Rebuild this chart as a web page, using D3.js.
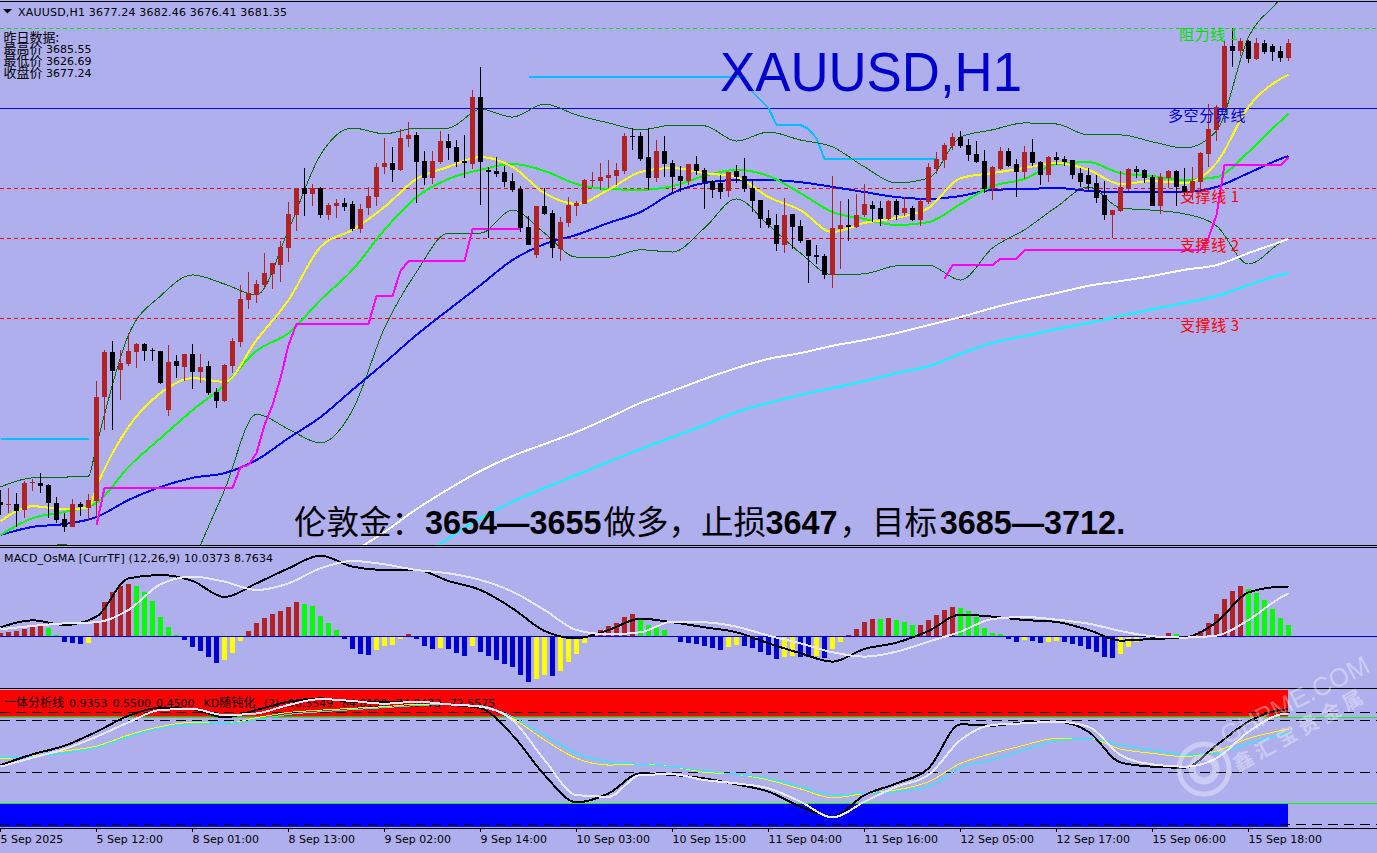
<!DOCTYPE html>
<html><head><meta charset="utf-8">
<script src="https://cdn.jsdelivr.net/npm/d3@7"></script>
<style>
html,body{margin:0;padding:0;background:#afafee;overflow:hidden}
svg{display:block}
text{font-family:"DejaVu Sans",sans-serif}
.cjk{font-family:"Noto Sans CJK SC",sans-serif}
</style></head><body><div id="c"></div>
<script>
// ---------- price candles ----------
const highs=[3558.5,3559.0,3557.6,3560.9,3561.5,3563.1,3560.1,3556.5,3552.1,3556.0,
3555.2,3557.3,3588.4,3597.0,3599.4,3597.0,3601.6,3598.9,3598.9,3597.5,
3596.7,3598.3,3595.6,3595.8,3598.6,3595.8,3593.9,3586.5,3593.1,3600.2,
3614.8,3618.4,3616.2,3623.6,3620.9,3626.9,3637.6,3641.5,3647.0,3642.6,
3641.8,3637.4,3638.5,3638.8,3637.9,3637.1,3641.8,3648.4,3655.2,3652.8,
3657.7,3659.6,3656.9,3651.7,3651.7,3657.2,3656.4,3654.7,3656.1,3668.5,
3674.8,3647.3,3650.0,3647.6,3645.6,3642.0,3633.8,3636.6,3641.5,3635.4,
3633.5,3639.0,3637.9,3644.0,3645.9,3648.4,3649.2,3648.4,3656.6,3658.0,
3656.9,3658.0,3654.7,3655.8,3649.2,3647.6,3648.1,3650.3,3647.0,3643.7,
3645.1,3645.9,3647.8,3649.7,3644.0,3638.2,3635.4,3634.3,3638.8,3634.3,
3632.7,3627.2,3625.8,3623.4,3644.8,3637.9,3638.5,3639.9,3642.6,3637.9,
3637.9,3638.2,3638.5,3639.0,3636.6,3638.8,3648.4,3651.4,3653.9,3656.6,
3657.2,3655.0,3654.4,3651.9,3647.6,3652.8,3652.5,3649.5,3653.0,3655.0,
3648.9,3650.3,3651.4,3650.3,3649.2,3647.0,3647.0,3645.1,3643.4,3635.4,
3646.2,3647.0,3647.6,3646.7,3645.1,3645.6,3646.5,3646.5,3647.0,3647.3,
3651.4,3664.6,3664.3,3681.9,3685.5,3682.8,3682.2,3682.8,3682.2,3681.1,3680.6,3682.46];
const lows=[3551.6,3552.1,3548.3,3550.7,3558.2,3557.6,3550.7,3549.4,3546.9,3548.3,
3551.3,3549.9,3551.0,3575.0,3575.0,3583.2,3592.5,3592.0,3593.9,3593.9,
3587.6,3578.8,3589.2,3588.4,3586.2,3587.9,3584.6,3581.0,3582.7,3590.6,
3597.8,3608.2,3609.9,3613.7,3613.7,3615.6,3621.2,3629.7,3633.8,3636.5,
3633.3,3632.7,3633.3,3635.2,3629.7,3629.1,3634.1,3636.6,3645.4,3643.2,
3646.2,3652.8,3637.4,3642.3,3642.6,3648.1,3649.2,3647.3,3644.2,3646.7,
3636.8,3627.7,3644.5,3641.8,3640.4,3629.4,3625.8,3622.2,3634.1,3622.2,
3621.4,3630.8,3633.8,3637.1,3641.8,3641.0,3641.5,3642.3,3645.4,3652.0,
3648.9,3641.0,3643.2,3644.5,3640.4,3640.4,3642.3,3645.1,3635.7,3638.8,
3638.5,3639.0,3642.9,3640.4,3634.9,3630.5,3630.5,3624.2,3623.6,3624.7,
3626.4,3615.4,3620.6,3616.5,3614.0,3619.2,3626.9,3630.5,3633.5,3632.2,
3631.1,3632.7,3632.7,3633.8,3632.4,3631.1,3637.1,3645.4,3647.0,3651.9,
3652.5,3648.9,3648.4,3640.1,3638.2,3646.5,3647.3,3639.0,3644.0,3647.6,
3642.3,3643.2,3647.8,3647.6,3644.0,3641.8,3640.7,3637.4,3632.7,3627.7,
3634.9,3640.7,3644.2,3642.9,3636.6,3634.4,3641.5,3636.6,3639.6,3638.2,
3641.0,3647.3,3654.4,3663.0,3674.8,3677.8,3675.9,3676.7,3678.4,3676.4,3676.2,3676.41];
const opens=[3555.2,3554.3,3554.6,3553.0,3560.4,3560.4,3559.8,3554.9,3550.5,3548.3,
3554.6,3553.5,3555.4,3584.0,3596.4,3591.4,3593.1,3596.4,3598.6,3597.0,
3596.7,3580.4,3593.9,3592.3,3595.8,3590.9,3592.5,3585.4,3582.9,3592.5,
3599.2,3610.7,3612.1,3614.8,3617.9,3620.3,3625.0,3634.1,3641.5,3639.9,
3641.5,3634.1,3636.6,3637.4,3637.1,3630.2,3636.0,3639.0,3647.3,3648.4,
3646.5,3655.0,3656.1,3648.9,3644.2,3648.7,3654.4,3652.8,3648.9,3648.1,
3666.5,3646.5,3646.2,3645.9,3643.4,3641.2,3630.8,3623.1,3636.6,3634.6,
3624.7,3631.9,3636.6,3637.1,3643.4,3643.4,3644.2,3644.8,3646.2,3655.8,
3655.8,3650.0,3644.2,3651.7,3648.4,3644.8,3643.4,3648.1,3646.5,3643.4,
3642.9,3640.7,3646.2,3644.8,3641.5,3638.2,3633.3,3631.3,3625.8,3634.3,
3631.1,3627.2,3623.1,3622.8,3617.6,3630.2,3631.3,3630.8,3634.1,3636.8,
3636.0,3633.0,3637.9,3634.6,3636.0,3632.7,3637.7,3646.7,3649.2,3653.0,
3655.5,3653.3,3650.9,3648.9,3641.2,3646.7,3651.7,3648.1,3645.9,3651.4,
3648.7,3645.1,3650.0,3649.5,3649.2,3645.6,3645.1,3642.9,3639.6,3634.1,
3635.2,3641.2,3646.7,3646.5,3644.5,3636.6,3644.2,3646.2,3642.0,3640.4,
3643.2,3650.9,3657.5,3663.5,3680.6,3679.2,3681.9,3677.0,3681.4,3680.6,3679.2,3677.24];
const closes=[3554.3,3554.6,3552.7,3560.4,3560.6,3559.6,3554.9,3550.2,3548.3,3554.6,
3553.8,3555.7,3584.0,3596.4,3591.2,3593.4,3596.7,3598.6,3596.7,3596.7,
3587.9,3593.7,3592.5,3595.8,3590.9,3592.3,3585.1,3582.9,3592.8,3599.4,
3611.0,3612.6,3615.1,3618.1,3620.9,3625.3,3634.4,3641.5,3639.9,3641.5,
3634.1,3636.8,3637.4,3636.3,3630.2,3635.7,3639.3,3647.3,3648.4,3646.5,
3655.2,3656.1,3648.7,3644.2,3648.9,3654.4,3652.5,3648.7,3648.4,3666.5,
3648.7,3645.9,3645.4,3643.2,3641.0,3630.5,3625.8,3636.6,3634.3,3625.0,
3632.2,3636.8,3637.4,3643.7,3643.7,3644.5,3645.1,3646.5,3655.8,3655.5,
3649.5,3644.2,3651.7,3648.1,3644.5,3643.4,3648.1,3646.2,3643.2,3641.0,
3640.4,3645.9,3644.5,3641.2,3637.9,3633.0,3631.3,3626.1,3634.1,3630.8,
3626.9,3622.8,3622.5,3617.6,3630.5,3631.3,3630.8,3634.1,3637.1,3635.7,
3633.0,3637.9,3634.1,3636.0,3632.7,3637.9,3647.3,3649.5,3653.3,3655.5,
3653.0,3650.6,3648.7,3641.2,3647.3,3651.7,3647.6,3645.9,3651.4,3648.4,
3645.1,3650.0,3649.2,3648.7,3645.1,3643.2,3642.6,3638.8,3634.1,3635.4,
3641.8,3646.7,3645.9,3644.2,3636.6,3644.5,3646.2,3641.8,3640.4,3643.4,
3651.1,3657.7,3663.8,3680.6,3679.2,3681.9,3677.0,3681.4,3678.9,3678.9,3677.2,3681.35];

// ---------- moving averages and bands, sampled every fourth bar plus the last ----------
const sampleBars=[...d3.range(0,161,4),161];
const breakBars=[0,4,8,11,...d3.range(12,161,4),161];
const maYellow=[3549.9,3554.0,3553.2,3553.5,3559.3,3575.8,3585.1,3589.2,3588.2,3599.7,3610.7,3625.3,3630.0,3636.3,3644.0,3647.3,3650.0,3647.3,3640.1,3637.1,3641.0,3645.9,3647.0,3645.6,3644.5,3639.0,3635.4,3629.4,3631.9,3633.3,3636.0,3644.2,3645.6,3647.0,3648.4,3646.5,3642.6,3643.4,3642.9,3648.4,3663.8,3671.5,3672.6];
const maGreen=[3546.1,3550.7,3552.4,3554.9,3564.8,3572.7,3580.4,3587.3,3596.7,3601.6,3610.7,3619.0,3630.0,3639.0,3644.0,3646.5,3648.1,3646.2,3642.6,3641.2,3641.0,3642.0,3644.8,3646.5,3644.8,3640.1,3634.9,3633.0,3631.3,3632.1,3637.1,3642.0,3644.0,3648.1,3648.6,3645.6,3644.8,3643.7,3644.5,3651.4,3659.9,3661.9];
const maBlue=[3546.1,3548.3,3549.1,3551.0,3555.7,3559.3,3561.8,3563.1,3566.7,3572.7,3578.5,3586.0,3593.4,3601.1,3608.0,3614.8,3621.7,3626.1,3628.6,3631.9,3634.9,3640.1,3642.9,3643.7,3643.7,3643.1,3641.8,3640.4,3639.0,3638.5,3639.3,3641.0,3641.2,3641.5,3640.7,3640.4,3640.4,3640.4,3641.8,3645.6,3649.5,3650.3];
const maWhite=[3541.4,3546.9,3553.2,3558.7,3563.7,3567.8,3571.1,3574.4,3578.3,3582.4,3585.7,3589.0,3592.0,3594.5,3596.1,3598.1,3599.7,3601.6,3603.8,3606.0,3608.5,3610.7,3612.6,3614.6,3615.9,3617.3,3619.0,3620.3,3623.6,3626.7,3627.5];
const maCyan=[3539.2,3545.2,3550.7,3555.2,3559.0,3562.6,3566.2,3569.7,3573.0,3576.3,3579.9,3582.4,3584.6,3586.5,3588.4,3590.6,3592.5,3595.9,3598.9,3600.8,3602.7,3604.4,3606.3,3608.2,3609.9,3611.8,3614.8,3617.6,3618.1];
const bbUpper=[3559.3,3561.8,3562.0,3562.3,3570.8,3601.1,3611.8,3617.6,3615.1,3612.1,3630.0,3650.6,3658.0,3656.4,3658.0,3658.0,3663.2,3661.0,3664.6,3661.6,3659.4,3657.5,3658.8,3658.6,3654.4,3656.9,3654.7,3652.8,3647.3,3642.9,3644.2,3655.5,3657.5,3659.4,3659.1,3656.1,3656.1,3654.2,3652.5,3657.2,3683.0,3693.8,3697.3];
const bbLower=[3540.6,3541.4,3543.6,3522.7,3506.2,3511.7,3537.8,3558.4,3579.3,3575.2,3571.4,3580.4,3603.0,3618.4,3629.1,3629.1,3635.4,3629.1,3622.5,3622.5,3624.5,3623.9,3630.5,3638.5,3631.3,3623.6,3617.6,3617.9,3620.1,3620.3,3616.2,3625.0,3630.0,3636.3,3641.8,3636.0,3635.4,3634.4,3631.1,3620.6,3626.4,3627.5];

// ---------- stepped support lines ----------
const magentaA=[[12,3548.8],[13,3559.0],[29,3559.0],[30,3564.8],[31,3565.3],[32,3568.6],[33,3576.3],[34,3581.8],[35,3589.2],[36,3598.3],[37,3604.1],[46,3604.1],[47,3611.8],[49,3611.8],[50,3618.7],[51,3621.4],[58,3621.4],[59,3630.2],[65,3630.2]];
const magentaB=[[118,3616.5],[119,3620.3],[124,3620.3],[125,3622.0],[127,3622.0],[128,3624.4],[150,3624.4],[151,3627.8],[152,3634.1],[153,3647.8],[160,3647.8],[161,3650.0]];
const skyA=[[0,3572.5],[11,3572.5]];
const skyB=[[66,3672.0],[93,3672.0],[94,3667.9],[95,3665.7],[96,3663.5],[97,3658.8],[100,3658.8],[101,3657.7],[102,3655.2],[103,3649.5],[117,3649.5]];

// ---------- horizontal levels ----------
const levelResist=3685.55, levelPivot=3663.4;
const levelSupports=[3641.4,3627.7,3605.7];

// ---------- MACD pane ----------
const osma=[0.6,0.8,1.0,1.4,1.8,2.2,1.6,0.2,-1.2,-1.4,-1.44,-1.3,2.6,6.8,8.8,10,10.4,10,8.8,7,3.8,1.8,0.2,-0.8,-2.2,-3,-4.2,-5.4,-4.8,-3.4,-1,1,2.6,3.6,4.4,5,5.8,6.8,6.4,6,4,2.6,1.2,-0.6,-2.6,-3.6,-3.8,-2.8,-2,-1.8,-0.6,0.4,-0.6,-2,-2.6,-2.4,-2.6,-3.4,-4,-2,-3.2,-4,-4.8,-5.6,-6.2,-7.8,-9.2,-8.6,-7.8,-8,-7,-5.2,-3.6,-1.4,0.4,1.2,2,2.6,3.8,4.4,3.2,2.2,2,1.2,0,-1.2,-1.4,-1.6,-2,-2.4,-2.8,-2.2,-1.8,-1.9,-2.4,-3.2,-3.8,-4.6,-4.2,-4,-4.1,-4.2,-4,-4.4,-2.6,-1.2,0.2,1.4,2.8,3.5,3.4,3.6,3.2,2.8,2.2,2.3,3.2,4.2,5.2,5.8,5.7,5,3.8,1.6,0.6,0.4,-0.6,-1.2,-0.8,-1,-1.4,-1.2,-1,-1.1,-1.6,-2,-2.6,-3.2,-4.2,-4.4,-3.6,-2.2,-1.2,-0.2,-0.6,0,0.6,0.4,0,0,1,2.6,4.4,7.4,9,10,9.4,8.6,7.2,5.4,3.6,2.2];
const macdMain=[1.84,3.26,2.31,4.01,11.83,12.51,11.29,8.02,10.81,13.87,16.46,14.21,13.53,13.53,11.29,9.45,5.71,1.09,-0.41,1.29,3.60,2.86,1.84,0.82,-1.43,-3.47,-5.17,-2.58,-1.29,1.09,4.42,4.01,3.33,2.92,1.29,-0.88,-0.54,-0.27,2.86,8.98,10.06,10.04];
const macdSignal=[1.43,2.11,2.65,2.86,5.37,10.61,12.17,11.15,9.45,10.81,13.87,15.37,14.69,13.53,12.85,11.49,9.11,5.37,1.29,0.41,0.82,2.99,2.86,1.97,0.14,-1.43,-3.26,-4.15,-3.13,-1.09,0.95,3.54,3.94,3.40,2.58,1.09,0,-0.27,0.14,3.33,7.89,8.76];

// ---------- KD pane ----------
const kdBlack=[54.2,60.7,65.9,74.4,84.1,89.0,88.0,83.1,87.6,92.6,94.6,92.6,92.6,92.6,91.0,88.6,72.4,48.2,31.6,37.0,49.2,48.2,46.1,42.5,38.1,29.0,22.9,36.0,43.1,52.2,78.9,78.1,80.1,80.5,74.4,55.8,53.2,52.6,66.3,80.5,87.6,88.0];
const kdWhite=[53.2,58.7,63.9,71.4,80.1,87.6,88.2,84.5,85.5,90.6,94.2,93.0,91.4,92.6,91.0,89.6,81.5,57.3,36.0,35.0,48.2,48.6,45.1,43.1,40.1,32.0,22.5,32.0,41.1,48.2,69.4,78.5,79.5,80.5,77.4,60.3,54.6,53.2,58.3,74.4,84.9,85.5];
const kdYellow=[57.9,59.7,62.7,65.7,72.4,77.5,80.1,79.3,82.9,86.1,87.5,88.6,89.6,91.0,91.0,89.6,82.5,69.4,58.3,54.2,54.6,53.2,49.8,48.6,45.1,39.7,34.4,37.0,39.1,44.1,55.2,61.3,66.3,70.4,70.4,63.9,61.3,59.3,62.7,70.4,75.0,76.0];
const kdCyan=[58.9,59.3,61.5,64.7,71.4,76.4,79.1,79.3,81.7,84.9,86.5,87.8,89.0,90.2,91.0,90.2,83.5,72.4,61.3,56.2,54.6,53.2,50.6,48.6,46.1,41.1,36.4,37.0,38.1,41.1,52.6,57.3,63.3,69.0,70.4,66.3,63.3,60.7,61.3,67.3,72.4,73.4];
const kdDashLevels=[86.4,81.5,50,18.5];
const kdBandHigh=[83.6,100], kdBandLow=[16.7,31.2];

// ---------- time axis ----------
const tickBars=d3.range(0,157,12);
const tickLabels=["5 Sep 2025","5 Sep 12:00","8 Sep 01:00","8 Sep 13:00","9 Sep 02:00","9 Sep 14:00","10 Sep 03:00","10 Sep 15:00","11 Sep 04:00","11 Sep 16:00","12 Sep 05:00","12 Sep 17:00","15 Sep 06:00","15 Sep 18:00"];

// ---------- text ----------
const headText="XAUUSD,H1   3677.24 3682.46 3676.41 3681.35";
const infoRows=[["昨日数据:",""],["最高价"," 3685.55"],["最低价"," 3626.69"],["收盘价"," 3677.24"]];
const macdTitle="MACD_OsMA [CurrTF] (12,26,9) 10.0373 8.7634";
const kdTitleA="一体分析线", kdTitleB=" 0.9353 0.5500 0.4500", kdTitleK="KD", kdTitleC="随钝化", kdTitleD=" (2) 90.5549 84.8190 74.8473 72.5575";
const planParts=["伦敦金：","3654—3655","做多，止损","3647","，目标","3685—3712."];
const lineLabels=["阻力线 1","多空分界线","支撑线 1","支撑线 2","支撑线 3"];

// ---------- scales ----------
const W=1377,H=853;
const x=d3.scaleLinear().domain([0,161]).range([0,1288]);
const y=d3.scaleLinear().domain([3693.2,3543.33]).range([0,545]);
const yMacd=d3.scaleLinear().domain([20,-10]).range([538.3,685.3]);
const yOsma=d3.scaleLinear().domain([10,-10]).range([586.3,686.3]);
const yKd=d3.scaleLinear().domain([0,100]).range([854.5,689.5]);

const svg=d3.select("#c").append("svg").attr("width",W).attr("height",H);
svg.append("rect").attr("width",W).attr("height",H).attr("fill","#afafee");
const defs=svg.append("defs");
defs.append("clipPath").attr("id","cMain").append("rect").attr("x",0).attr("y",2).attr("width",W).attr("height",543);
defs.append("clipPath").attr("id","cKd").append("rect").attr("x",0).attr("y",690).attr("width",W).attr("height",138);

const hRule=(g,yy,col,dash,w)=>g.append("line").attr("x1",0).attr("x2",W).attr("y1",Math.round(yy)+.5).attr("y2",Math.round(yy)+.5)
  .attr("stroke",col).attr("stroke-width",w||1).attr("stroke-dasharray",dash||null).attr("shape-rendering","crispEdges");

const path=(g,bars,vals,sc,col,w,curve)=>g.append("path")
  .datum(bars.map((b,i)=>[b,vals[i]]))
  .attr("fill","none").attr("stroke",col).attr("stroke-width",w).attr("stroke-linejoin","round")
  .attr("shape-rendering","crispEdges")
  .attr("d",d3.line().x(d=>x(d[0])+.5).y(d=>sc(d[1])).curve(curve||d3.curveMonotoneX));
const stepPath=(g,pairs,col,w)=>path(g,pairs.map(d=>d[0]),pairs.map(d=>d[1]),y,col,w,d3.curveLinear);

// ---------- main pane ----------
const main=svg.append("g").attr("clip-path","url(#cMain)");
hRule(main,y(levelResist),"#00e000","4 3");
hRule(main,y(levelPivot),"#0000ff");
levelSupports.forEach(v=>hRule(main,y(v),"#ff0000","4 3"));

svg.append("text").attr("x",720).attr("y",91).attr("font-size",56).attr("textLength",302).attr("lengthAdjust","spacingAndGlyphs")
  .attr("fill","#0000cd").style("font-family","'Liberation Sans',sans-serif").text("XAUUSD,H1");

stepPath(main,skyA,"#00bfff",2); stepPath(main,skyB,"#00bfff",2);
path(main,breakBars,bbUpper,y,"#006f00",1);
path(main,sampleBars,bbLower,y,"#006f00",1);
path(main,sampleBars.slice(11),maWhite,y,"#ffffff",2);
path(main,sampleBars.slice(13),maCyan,y,"#00ffff",2);
path(main,sampleBars,maBlue,y,"#0000ff",2);
path(main,sampleBars,maGreen,y,"#00ff00",2);
path(main,breakBars,maYellow,y,"#ffff00",2);
stepPath(main,magentaA,"#ff00ff",2); stepPath(main,magentaB,"#ff00ff",2);

const candles=main.append("g").attr("shape-rendering","crispEdges");
const colOf=i=>closes[i]>=opens[i]?"#b22222":"#000000";
candles.selectAll(".w").data(highs).join("rect").attr("class","w")
  .attr("x",(d,i)=>x(i)).attr("width",1)
  .attr("y",d=>Math.round(y(d))).attr("height",(d,i)=>Math.max(1,Math.round(y(lows[i]))-Math.round(y(d))))
  .attr("fill",(d,i)=>colOf(i));
candles.selectAll(".b").data(opens).join("rect").attr("class","b")
  .attr("x",(d,i)=>x(i)-2).attr("width",5)
  .attr("y",(d,i)=>Math.round(y(Math.max(d,closes[i]))))
  .attr("height",(d,i)=>Math.max(1,Math.round(y(Math.min(d,closes[i])))-Math.round(y(Math.max(d,closes[i])))))
  .attr("fill",(d,i)=>colOf(i));

const labelPos=[[1179,40,"#00e000"],[1168,121,"#0000cd"],[1180,202,"#ff0000"],[1180,251,"#ff0000"],[1180,331,"#ff0000"]];
lineLabels.forEach((d,i)=>svg.append("text").attr("class","cjk").attr("x",labelPos[i][0]).attr("y",labelPos[i][1]).attr("font-size",15)
  .attr("letter-spacing",.6).attr("fill",labelPos[i][2]).text(d));

const planDx=[0,1,2,-.5,2,2.5];
const planText=svg.append("text").attr("x",294).attr("y",534).attr("fill","#000");
planParts.forEach((p,i)=>planText.append("tspan").attr("dx",planDx[i]).text(p)
  .style("font-family",i%2?"'Liberation Sans',sans-serif":"'Noto Sans CJK SC',sans-serif")
  .attr("font-size",i%2?32.4:32.5)
  .attr("font-weight",i%2?"bold":"normal"));

// header
svg.append("path").attr("d",d3.line()([[3,9],[12,9],[7.5,13.5]])+"Z").attr("fill","#000");
svg.append("text").attr("x",18).attr("y",16).attr("font-size",11).attr("textLength",269).attr("fill","#000").text(headText);
infoRows.forEach((r,i)=>{
  const t=svg.append("text").attr("x",3.5).attr("y",41.5+i*11.8).attr("fill","#000");
  t.append("tspan").attr("font-size",13).style("font-family","'Noto Sans CJK SC',sans-serif").text(r[0]);
  t.append("tspan").attr("font-size",11).text(r[1]);
});

// pane frames
[1,545,547,688,828].forEach(v=>svg.append("line").attr("x1",0).attr("x2",W).attr("y1",v+.5).attr("y2",v+.5)
  .attr("stroke","#000").attr("stroke-width",1).attr("shape-rendering","crispEdges"));

// ---------- MACD pane ----------
const macdG=svg.append("g");
macdG.append("text").attr("x",4).attr("y",562).attr("font-size",11).attr("textLength",269).attr("fill","#000").text(macdTitle);
const osmaCol=(v,i)=>{const p=i?osma[i-1]:-Infinity; return v>0?(v>p?"#b22222":"#00ff00"):(v<p?"#0000cd":"#ffff00");};
macdG.append("g").attr("shape-rendering","crispEdges").selectAll("rect")
  .data(osma.map((v,i)=>({v,i})).filter(d=>d.v!==0)).join("rect")
  .attr("x",d=>x(d.i)-2).attr("width",5)
  .attr("y",d=>d.v>0?Math.round(yOsma(d.v)):Math.round(yOsma(0)))
  .attr("height",d=>Math.abs(Math.round(yOsma(d.v))-Math.round(yOsma(0))))
  .attr("fill",d=>osmaCol(d.v,d.i));
hRule(macdG,yMacd(0),"#0000cd");
path(macdG,sampleBars,macdMain,yMacd,"#000000",2);
path(macdG,sampleBars,macdSignal,yMacd,"#e8e8f8",2);

// ---------- KD pane ----------
const kdG=svg.append("g").attr("clip-path","url(#cKd)");
const bandX=x(161);
[[kdBandHigh,"#ff0000"],[kdBandLow,"#0000ff"]].forEach(([b,c])=>kdG.append("rect").attr("x",0).attr("width",bandX)
  .attr("y",yKd(b[1])).attr("height",yKd(b[0])-yKd(b[1])).attr("fill",c));
kdDashLevels.forEach(v=>hRule(kdG,yKd(v),"#000","10 6"));
hRule(kdG,yKd(kdBandHigh[0]),"#00ff00");
hRule(kdG,yKd(kdBandLow[1]),"#00ff00");
const kdT=svg.append("text").attr("x",4).attr("y",707).attr("font-size",11).attr("fill","#000");
kdT.append("tspan").style("font-family","'Noto Sans CJK SC',sans-serif").attr("font-size",12).text(kdTitleA);
kdT.append("tspan").attr("word-spacing",1.5).text(kdTitleB);
kdT.append("tspan").attr("dx",9).text(kdTitleK);
kdT.append("tspan").style("font-family","'Noto Sans CJK SC',sans-serif").attr("font-size",12).text(kdTitleC);
kdT.append("tspan").attr("word-spacing",5).text(kdTitleD);
const kdLines=svg.append("g").attr("clip-path","url(#cKd)");
path(kdLines,sampleBars,kdYellow,yKd,"#ffff00",1);
path(kdLines,sampleBars,kdCyan,yKd,"#00ffff",1);
path(kdLines,sampleBars,kdBlack,yKd,"#000000",2);
path(kdLines,sampleBars,kdWhite,yKd,"#e8e8f8",2);

// ---------- time axis ----------
const axis=d3.axisBottom(x).tickValues(tickBars).tickFormat((d,i)=>tickLabels[i]).tickSize(4).tickSizeOuter(0);
const ax=svg.append("g").attr("transform","translate(0,828)").call(axis);
ax.select(".domain").remove();
ax.selectAll("line").attr("stroke","#000").attr("shape-rendering","crispEdges");
ax.selectAll("text").attr("text-anchor","start").attr("y",7).attr("dy","0.71em").attr("font-size",11).attr("fill","#000").style("font-family","'DejaVu Sans',sans-serif");

// ---------- watermark ----------
const wm=svg.append("g").attr("opacity",.36).attr("fill","#ffffff");
wm.append("circle").attr("cx",1204).attr("cy",769).attr("r",25).attr("fill","none").attr("stroke","#fff").attr("stroke-width",5);
wm.append("circle").attr("cx",1204).attr("cy",769).attr("r",12).attr("fill","none").attr("stroke","#fff").attr("stroke-width",7);
wm.append("text").attr("transform","translate(1226,745) rotate(-27)").attr("font-size",26).style("font-family","'Liberation Sans',sans-serif").text("GHPME.COM");
wm.append("text").attr("transform","translate(1238,772) rotate(-29)").attr("font-size",20).attr("letter-spacing",5).style("font-family","'Noto Sans CJK SC',sans-serif").attr("font-weight","bold").text("鑫汇宝贵金属");
</script></body></html>
